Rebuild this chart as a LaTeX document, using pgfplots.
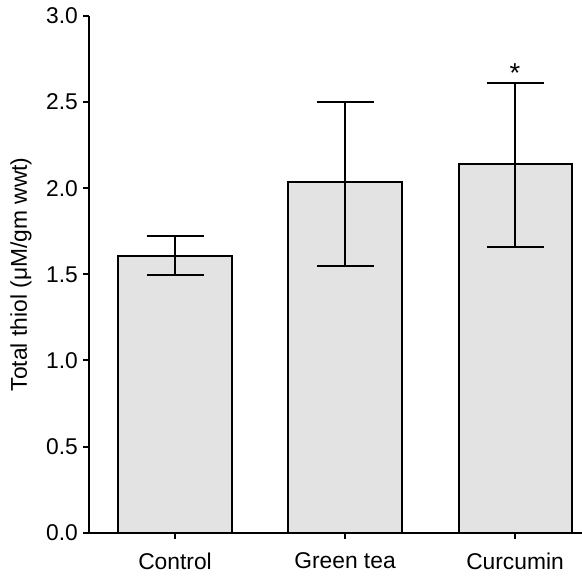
\documentclass[border=0pt]{standalone}
\usepackage{fontspec}
\setmainfont{Liberation Sans}
\usepackage{pgfplots}
\pgfplotsset{compat=1.18}
\definecolor{barfill}{RGB}{227,227,227}
\begin{document}
\fontsize{11.4}{13.6}\selectfont
\begin{tikzpicture}
\begin{axis}[
  at={(0,0)}, anchor=south west,
  scale only axis, width=246.25pt, height=258.35pt,
  xmin=-0.503, xmax=2.394, ymin=0, ymax=3,
  axis x line=bottom, axis y line=left,
  axis line style={line width=1pt, -},
  xtick={0,1,2}, xticklabels={Control, Green tea, Curcumin},
  ytick={0,0.5,1,1.5,2,2.5,3},
  /pgf/number format/assume math mode=true,
  yticklabel style={xshift=1.2pt, /pgf/number format/.cd, fixed, fixed zerofill, precision=1},
  tick style={line width=1pt, black},
  major tick length=3pt,
  tick align=outside,
  ylabel={Total thiol (μM/gm wwt)},
  ylabel style={at={(axis description cs:-0.139,0.5)}, anchor=center},
  xticklabel style={yshift=-3pt},
]
\addplot[ybar, bar width=0.665, fill=barfill, draw=black, line width=1pt,
  error bars/.cd, y dir=both, y explicit,
  error bar style={line width=1pt, black},
  error mark options={rotate=90, mark size=14.25pt, line width=1pt, black}]
  coordinates {
    (0,1.607) += (0,0.116) -= (0,0.109)
    (1,2.035) += (0,0.464) -= (0,0.486)
    (2,2.139) += (0,0.471) -= (0,0.482)
  };
\node[anchor=north, inner sep=0pt, scale=1.2] at (axis cs:2,2.728) {*};
\end{axis}
\pgfresetboundingbox
\path (-44.75pt,-21.65pt) rectangle (246.25pt,266.35pt);
\end{tikzpicture}
\end{document}
